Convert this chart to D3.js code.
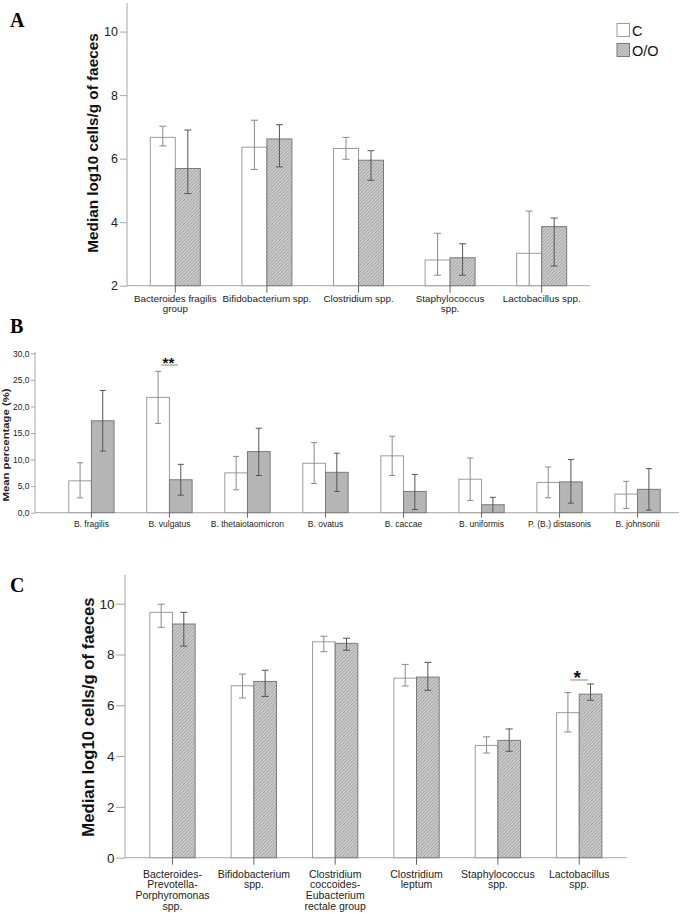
<!DOCTYPE html>
<html><head><meta charset="utf-8">
<script src="https://cdn.jsdelivr.net/npm/d3@7"></script>
<style>
html,body{margin:0;padding:0;background:#fff;}
svg{display:block;}
text{font-family:"Liberation Sans",Arial,sans-serif;}
</style></head>
<body>
<svg id="chart" width="685" height="913"></svg>
<script>
// ---------- Panel A ----------
const catsA = ["Bacteroides fragilis\ngroup","Bifidobacterium spp.","Clostridium spp.","Staphylococcus\nspp.","Lactobacillus spp."];
const valsA_C = [6.67, 6.36, 6.32, 2.81, 3.02];
const loA_C   = [6.40, 5.66, 5.98, 2.33, 2.00];
const hiA_C   = [7.02, 7.21, 6.67, 3.65, 4.35];
const valsA_O = [5.69, 6.62, 5.95, 2.88, 3.86];
const loA_O   = [4.90, 5.74, 5.32, 2.33, 2.62];
const hiA_O   = [6.90, 7.07, 6.25, 3.32, 4.13];
const ticksA  = [2, 4, 6, 8, 10];

// ---------- Panel B ----------
const catsB = ["B. fragilis","B. vulgatus","B. thetaiotaomicron","B. ovatus","B. caccae","B. uniformis","P. (B.) distasonis","B. johnsonii"];
const valsB_C = [6.0, 21.7, 7.5, 9.3, 10.7, 6.3, 5.7, 3.5];
const loB_C   = [2.8, 16.8, 4.3, 5.5, 7.0, 2.3, 2.8, 0.8];
const hiB_C   = [9.4, 26.6, 10.6, 13.2, 14.4, 10.3, 8.6, 5.9];
const valsB_O = [17.3, 6.2, 11.5, 7.6, 4.0, 1.5, 5.8, 4.4];
const loB_O   = [11.6, 3.3, 7.0, 4.0, 0.6, 0.0, 1.8, 0.5];
const hiB_O   = [23.0, 9.1, 15.9, 11.2, 7.2, 2.9, 10.0, 8.3];
const ticksB  = [0, 5, 10, 15, 20, 25, 30];

// ---------- Panel C ----------
const catsC = ["Bacteroides-\nPrevotella-\nPorphyromonas\nspp.","Bifidobacterium\nspp.","Clostridium\ncoccoides-\nEubacterium\nrectale group","Clostridium\nleptum","Staphylococcus\nspp.","Lactobacillus\nspp."];
const valsC_C = [9.66, 6.77, 8.50, 7.07, 4.42, 5.71];
const loC_C   = [9.07, 6.29, 8.11, 6.76, 4.12, 4.95];
const hiC_C   = [9.98, 7.23, 8.72, 7.61, 4.76, 6.50];
const valsC_O = [9.20, 6.94, 8.44, 7.11, 4.62, 6.44];
const loC_O   = [8.33, 6.35, 8.17, 6.59, 4.19, 6.20];
const hiC_O   = [9.66, 7.38, 8.64, 7.69, 5.07, 6.84];
const ticksC  = [0, 2, 4, 6, 8, 10];

const seriesNames = ["C", "O/O"];

const svg = d3.select("#chart");
const defs = svg.append("defs");
const pat = defs.append("pattern").attr("id","hatch").attr("patternUnits","userSpaceOnUse")
  .attr("width",2.4).attr("height",2.4).attr("patternTransform","rotate(45)");
pat.append("rect").attr("width",2.4).attr("height",2.4).attr("fill","#cacaca");
pat.append("line").attr("x1",0).attr("y1",0).attr("x2",0).attr("y2",2.4).attr("stroke","#8e8e8e").attr("stroke-width",1);

const AXIS = "#a6a6a6";

function panel(o){
  const g = svg.append("g");
  const y = d3.scaleLinear().domain(o.ydom).range(o.yrange);
  const x = d3.scaleBand().domain(o.cats).range(o.xrange).paddingInner(o.pi).paddingOuter(o.po);
  const sub = d3.scaleBand().domain(seriesNames).range([0, x.bandwidth()]);
  const ya = g.append("g").attr("transform",`translate(${o.axisX},0)`)
    .call(d3.axisLeft(y).tickValues(o.ticks).tickSize(o.tickSize).tickPadding(o.tickPad).tickFormat(o.fmt));
  ya.select(".domain").remove();
  ya.selectAll(".tick line").attr("stroke",AXIS);
  ya.selectAll(".tick text").attr("font-size",o.tickFont).attr("fill","#222").style("font-family","'Liberation Sans',Arial,sans-serif");
  g.append("line").attr("x1",o.axisX).attr("x2",o.axisX).attr("y1",o.axisTop).attr("y2",y(o.ydom[0])).attr("stroke",AXIS);
  g.append("line").attr("x1",o.axisX).attr("x2",o.axisRight).attr("y1",y(o.ydom[0])).attr("y2",y(o.ydom[0])).attr("stroke",AXIS);
  const series = [
    {name:"C", v:o.vC, lo:o.loC, hi:o.hiC},
    {name:"O/O", v:o.vO, lo:o.loO, hi:o.hiO}
  ];
  series.forEach((s,si)=>{
    const gg = g.append("g");
    gg.selectAll("rect").data(o.cats).join("rect")
      .attr("x",(c)=>x(c)+sub(s.name)).attr("width",sub.bandwidth())
      .attr("y",(c,i)=>y(s.v[i])).attr("height",(c,i)=>y(o.ydom[0])-y(s.v[i]))
      .attr("fill", si===0 ? "#ffffff" : o.oFill)
      .attr("stroke", si===0 ? "#9c9c9c" : "#7a7a7a").attr("stroke-width",1);
  });
  g.selectAll("line.xt").data(o.cats).join("line").attr("class","xt")
    .attr("x1",c=>x(c)+x.bandwidth()/2).attr("x2",c=>x(c)+x.bandwidth()/2)
    .attr("y1",y(o.ydom[0])-0.5).attr("y2",y(o.ydom[0])+o.xTick).attr("stroke","#666");
  series.forEach((s,si)=>{
    const col = si===0 ? "#8a8a8a" : "#555555";
    const cx = (c)=>x(c)+sub(s.name)+sub.bandwidth()/2;
    const eg = g.append("g").attr("stroke",col).attr("stroke-width",1);
    o.cats.forEach((c,i)=>{
      eg.append("line").attr("x1",cx(c)).attr("x2",cx(c)).attr("y1",y(s.hi[i])).attr("y2",y(s.lo[i]));
      eg.append("line").attr("x1",cx(c)-o.cap).attr("x2",cx(c)+o.cap).attr("y1",y(s.hi[i])).attr("y2",y(s.hi[i]));
      if (s.lo[i] > o.ydom[0]) eg.append("line").attr("x1",cx(c)-o.cap).attr("x2",cx(c)+o.cap).attr("y1",y(s.lo[i])).attr("y2",y(s.lo[i]));
    });
  });
  o.cats.forEach(c=>{
    const t = g.append("text").attr("text-anchor","middle").attr("font-size",o.labFont).attr("fill","#222");
    c.split("\n").forEach((ln,k)=>{
      t.append("tspan").attr("x",x(c)+x.bandwidth()/2).attr("y",o.labY + k*o.labLH).text(ln);
    });
  });
  return {x,y,sub,g};
}

const pA = panel({cats:catsA, ydom:[2,10.9], yrange:[285.7,3], xrange:[127,590], pi:0.454, po:0.2545,
  axisX:127, axisTop:3, axisRight:590, ticks:ticksA, tickSize:7, tickPad:2, fmt:d3.format("d"), tickFont:12.5,
  vC:valsA_C, loC:loA_C, hiC:hiA_C, vO:valsA_O, loO:loA_O, hiO:hiA_O, oFill:"url(#hatch)",
  xTick:7, cap:3.5, labFont:9.8, labY:301.5, labLH:10.5});

const pB = panel({cats:catsB, ydom:[0,30], yrange:[512.7,353.3], xrange:[43,686], pi:0.419, po:0.33,
  axisX:35, axisTop:352, axisRight:679, ticks:ticksB, tickSize:4, tickPad:1.5, fmt:d=>d3.format(".1f")(d).replace(".",","), tickFont:8.5,
  vC:valsB_C, loC:loB_C, hiC:hiB_C, vO:valsB_O, loO:loB_O, hiO:hiB_O, oFill:"#b5b5b5",
  xTick:5, cap:3, labFont:8.5, labY:527, labLH:10});

const pC = panel({cats:catsC, ydom:[0,11.13], yrange:[857.7,575], xrange:[125,626.7], pi:0.443, po:0.305,
  axisX:125, axisTop:575, axisRight:626.7, ticks:ticksC, tickSize:9, tickPad:1.5, fmt:d3.format("d"), tickFont:13.5,
  vC:valsC_C, loC:loC_C, hiC:hiC_C, vO:valsC_O, loO:loC_O, hiO:hiC_O, oFill:"url(#hatch)",
  xTick:7, cap:3.5, labFont:10.5, labY:877.5, labLH:10.7});

svg.append("text").attr("transform","translate(98,143) rotate(-90)").attr("text-anchor","middle")
  .attr("font-size",15.3).attr("font-weight","bold").attr("fill","#111").text("Median log10 cells/g of faeces");
svg.append("text").attr("transform","translate(9,445) rotate(-90)").attr("text-anchor","middle")
  .attr("font-size",9).attr("font-weight","bold").attr("fill","#222")
  .attr("textLength",113).attr("lengthAdjust","spacingAndGlyphs").text("Mean percentage (%)");
svg.append("text").attr("transform","translate(94,717) rotate(-90)").attr("text-anchor","middle")
  .attr("font-size",16.7).attr("font-weight","bold").attr("fill","#111").text("Median log10 cells/g of faeces");

[["A",27],["B",333],["C",592]].forEach(([l,yy])=>{
  svg.append("text").attr("x",10).attr("y",yy).attr("font-size",20).attr("font-weight","bold")
    .style("font-family","'Liberation Serif','Times New Roman',serif").attr("fill","#000").text(l);
});

seriesNames.forEach((n,i)=>{
  svg.append("rect").attr("x",617).attr("y",23.5+i*20).attr("width",12.5).attr("height",13)
    .attr("fill", i===0 ? "#fff" : "url(#hatch)").attr("stroke", i===0 ? "#9c9c9c" : "#7a7a7a");
  svg.append("text").attr("x",632).attr("y",36+i*20).attr("font-size",14.5).attr("fill","#111").text(n);
});

{
  const i = catsB.indexOf("B. vulgatus");
  const cx = pB.x(catsB[i]) + pB.x.bandwidth()/2;
  svg.append("line").attr("x1",cx-8.5).attr("x2",cx+8.5).attr("y1",365).attr("y2",365).attr("stroke","#888");
  svg.append("text").attr("x",cx-1).attr("y",368).attr("text-anchor","middle").attr("font-size",15).attr("font-weight","bold").attr("fill","#111").text("**");
}
{
  const i = catsC.indexOf("Lactobacillus\nspp.");
  const cx = pC.x(catsC[i]) + pC.x.bandwidth()/2;
  svg.append("line").attr("x1",cx-9).attr("x2",cx+9).attr("y1",680).attr("y2",680).attr("stroke","#888");
  svg.append("text").attr("x",cx-2).attr("y",684).attr("text-anchor","middle").attr("font-size",19).attr("font-weight","bold").attr("fill","#111").text("*");
}
</script>
</body></html>
